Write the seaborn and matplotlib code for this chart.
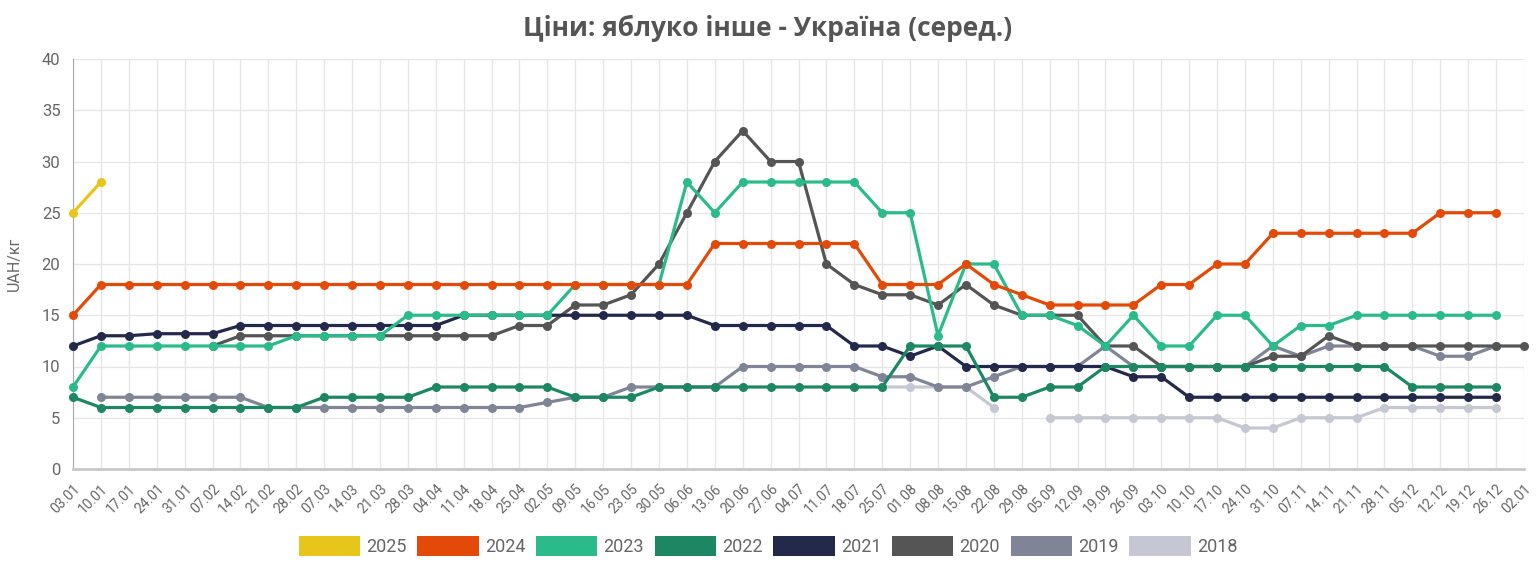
import numpy as np
import pandas as pd
import matplotlib
matplotlib.use("Agg")
import matplotlib.pyplot as plt
from matplotlib.patches import Patch
import seaborn as sns

N = None

dates = ["03.01", "10.01", "17.01", "24.01", "31.01", "07.02", "14.02", "21.02", "28.02",
         "07.03", "14.03", "21.03", "28.03", "04.04", "11.04", "18.04", "25.04", "02.05",
         "09.05", "16.05", "23.05", "30.05", "06.06", "13.06", "20.06", "27.06", "04.07",
         "11.07", "18.07", "25.07", "01.08", "08.08", "15.08", "22.08", "29.08", "05.09",
         "12.09", "19.09", "26.09", "03.10", "10.10", "17.10", "24.10", "31.10", "07.11",
         "14.11", "21.11", "28.11", "05.12", "12.12", "19.12", "26.12", "02.01"]

y2025 = [25, 28] + [N] * 51
y2024 = [15] + [18] * 22 + [22] * 6 + [18, 18, 18, 20, 18, 17, 16, 16, 16, 16, 18, 18,
         20, 20, 23, 23, 23, 23, 23, 23, 25, 25, 25, N]
y2023 = [8] + [12] * 7 + [13] * 4 + [15] * 6 + [18] * 4 + [28, 25, 28, 28, 28, 28, 28,
         25, 25, 13, 20, 20, 15, 15, 14, 12, 15, 12, 12, 15, 15, 12, 14, 14,
         15, 15, 15, 15, 15, 15, N]
y2022 = [7] + [6] * 8 + [7] * 4 + [8] * 5 + [7] * 3 + [8] * 9 + [12] * 3 + [7, 7, 8, 8] \
        + [10] * 11 + [8] * 4 + [N]
y2021 = [12, 13, 13, 13.2, 13.2, 13.2] + [14] * 8 + [15] * 9 + [14] * 5 + [12, 12, 11, 12] \
        + [10] * 6 + [9, 9] + [7] * 12 + [N]
y2020 = [N] * 5 + [12] + [13] * 10 + [14, 14, 16, 16, 17, 20, 25, 30, 33, 30, 30, 20, 18,
         17, 17, 16, 18, 16, 15, 15, 15, 12, 12, 10, 10, 10, 10, 11, 11, 13] + [12] * 7
y2019 = [N] + [7] * 6 + [6] * 10 + [6.5, 7, 7, 8, 8, 8, 8, 10, 10, 10, 10, 10, 9, 9, 8, 8, 9,
         10, 10, 10, 12, 10, 10, 10, 10, 10, 12, 11, 12, 12, 12, 12, 11, 11, 12, N]
y2018 = [N] * 29 + [8, 8, 8, 8, 6, N] + [5] * 7 + [4, 4, 5, 5, 5] + [6] * 5 + [N]

years = ["2025", "2024", "2023", "2022", "2021", "2020", "2019", "2018"]
values = [y2025, y2024, y2023, y2022, y2021, y2020, y2019, y2018]
colors = ["#E8C51A", "#E34A07", "#2BBB8A", "#1C8762", "#22294A", "#555555", "#7F8597", "#C5C8D2"]

sns.set_style("white")
plt.rcParams["font.family"] = ["Roboto", "DejaVu Sans"]

fig = plt.figure(figsize=(15.36, 5.69), dpi=100)
ax = fig.add_axes([73 / 1536, 1 - 469 / 569, (1524 - 73) / 1536, (469 - 59) / 569])

x = np.arange(len(dates))
# oldest year at the bottom, 2025 on top
for k in range(len(years) - 1, -1, -1):
    v = pd.Series(values[k], dtype=float)
    seg = v.isna().cumsum()
    df = pd.DataFrame({"x": x, "v": v, "seg": seg}).dropna()
    sns.lineplot(data=df, x="x", y="v", units="seg", estimator=None, ax=ax,
                 color=colors[k], linewidth=2.3, marker="o", markersize=6.5,
                 markeredgewidth=0, legend=False, clip_on=False,
                 zorder=3 + (len(years) - k))

ax.set_xlim(0, len(dates) - 1)
ax.set_ylim(0, 40)
ax.set_xticks(x)
ax.set_xticklabels(dates, rotation=45, ha="right", va="top", rotation_mode="anchor",
                   fontsize=10, color="#666666")
ax.set_yticks(range(0, 41, 5))
ax.set_yticklabels([str(t) for t in range(0, 41, 5)], fontsize=12, color="#666666")
ax.tick_params(axis="both", length=6, color="#e3e3e3", width=1, pad=3)
ax.grid(True, color="#e6e6e6", linewidth=1)
ax.set_axisbelow(True)
for s in ["top", "right"]:
    ax.spines[s].set_visible(False)
ax.spines["left"].set_color("#aaaaaa")
ax.spines["bottom"].set_color("#c8c8c8")
ax.spines["bottom"].set_linewidth(2)
ax.set_xlabel("")
ax.set_ylabel("UAH/кг", fontsize=11.5, color="#666666", labelpad=14)

fig.text(0.5, 1 - 28 / 569, "Ціни: яблуко інше - Україна (серед.)", ha="center", va="center",
         fontsize=19, fontweight="bold", color="#555555", family=["Open Sans", "DejaVu Sans"])

handles = [Patch(facecolor=c, edgecolor="none", label=y) for y, c in zip(years, colors)]
fig.legend(handles=handles, loc="center", bbox_to_anchor=(0.5, 1 - 546 / 569),
           ncol=8, frameon=False, fontsize=13, labelcolor="#666666",
           handlelength=3.4, handleheight=1.4, handletextpad=0.33, columnspacing=0.6)

fig.savefig("out.png", dpi=100)
